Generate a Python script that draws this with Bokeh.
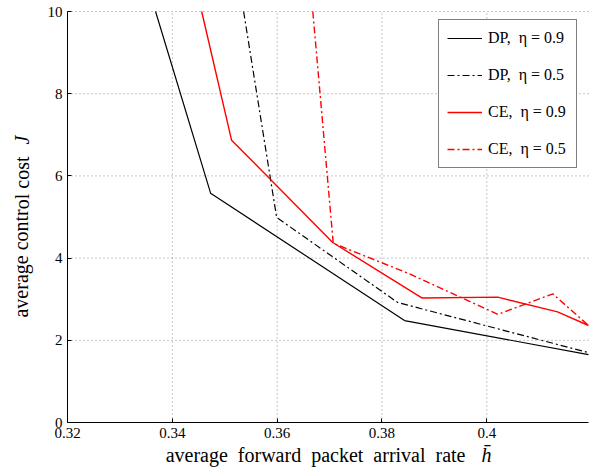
from bokeh.plotting import figure
from bokeh.models import Range1d, FixedTicker, Legend, LegendItem, Label, LinearAxis
from bokeh.embed import file_html
from bokeh.resources import INLINE

# ---- data ----
dp09_x = [0.3368, 0.3473, 0.3843, 0.4194]
dp09_y = [10.0, 5.58, 2.48, 1.65]

dp05_x = [0.3536, 0.3599, 0.3830, 0.4194]
dp05_y = [10.0, 4.99, 2.92, 1.70]

ce09_x = [0.3456, 0.3513, 0.3706, 0.3876, 0.4021, 0.4135, 0.4194]
ce09_y = [10.0, 6.87, 4.38, 3.03, 3.05, 2.69, 2.36]

ce05_x = [0.3668, 0.3707, 0.3850, 0.4021, 0.4126, 0.4194]
ce05_y = [10.0, 4.36, 3.63, 2.63, 3.13, 2.36]

x_min, x_max = 0.32, 0.4194
y_min, y_max = 0, 10
x_ticks = [0.32, 0.34, 0.36, 0.38, 0.40]
x_tick_labels = ["0.32", "0.34", "0.36", "0.38", "0.4"]
y_ticks = [0, 2, 4, 6, 8, 10]
legend_labels = ["DP,\u00a0 \u03b7 = 0.9", "DP,\u00a0 \u03b7 = 0.5",
                 "CE,\u00a0 \u03b7 = 0.9", "CE,\u00a0 \u03b7 = 0.5"]
x_label = "average\u00a0 forward\u00a0 packet\u00a0 arrival\u00a0 rate"
x_label_sym = "h\u0304"
y_label = "average control cost"
y_label_sym = "J"

FONT = "Liberation Serif"

W, H = 590, 468
# frame covers the whole canvas; axes are pinned inside it
px_per_x = 521 / (x_max - x_min)
px_per_y = 411 / (y_max - y_min)
xr = Range1d(x_min - 67 / px_per_x, x_max + (W - 588) / px_per_x)
yr = Range1d(y_min - (H - 422) / px_per_y, y_max + 11 / px_per_y)

p = figure(width=W, height=H, output_backend="svg", toolbar_location=None,
           title=None, x_range=xr, y_range=yr,
           x_axis_location=None, y_axis_location=None,
           min_border=0, min_border_left=0, min_border_right=0,
           min_border_top=0, min_border_bottom=0)
p.outline_line_color = None
p.background_fill_color = "white"
p.border_fill_color = "white"
p.xgrid.visible = False
p.ygrid.visible = False

# dotted grid from the tick arrays, limited to the axes box
grid_kw = dict(line_color="#8c8c8c", line_dash="1 3", line_width=1)
p.segment(x0=x_ticks[1:], y0=[y_min] * (len(x_ticks) - 1),
          x1=x_ticks[1:], y1=[y_max] * (len(x_ticks) - 1), **grid_kw)
p.segment(x0=[x_min] * (len(y_ticks) - 1), y0=y_ticks[1:],
          x1=[x_max] * (len(y_ticks) - 1), y1=y_ticks[1:], **grid_kw)

xaxis = LinearAxis(fixed_location=y_min, bounds=(x_min, x_max),
                   ticker=FixedTicker(ticks=x_ticks))
xaxis.major_label_overrides = {t: l for t, l in zip(x_ticks, x_tick_labels)}
yaxis = LinearAxis(fixed_location=x_min, bounds=(y_min, y_max),
                   ticker=FixedTicker(ticks=y_ticks))
for ax in (xaxis, yaxis):
    ax.axis_line_color = "black"
    ax.axis_line_width = 1
    ax.major_tick_in = 4
    ax.major_tick_out = 0
    ax.minor_tick_line_color = None
    ax.major_tick_line_color = "black"
    ax.major_label_text_font = FONT
    ax.major_label_text_font_size = "15px"
    ax.major_label_text_color = "black"
    ax.major_label_standoff = 5
p.add_layout(xaxis, "below")
p.add_layout(yaxis, "left")

dashdot = "7 3 2 3"
r1 = p.line(dp09_x, dp09_y, line_color="black", line_width=1.2)
r2 = p.line(dp05_x, dp05_y, line_color="black", line_width=1.2, line_dash=dashdot)
r3 = p.line(ce09_x, ce09_y, line_color="#ff0000", line_width=1.4)
r4 = p.line(ce05_x, ce05_y, line_color="#ff0000", line_width=1.4, line_dash=dashdot)

legend = Legend(items=[LegendItem(label=legend_labels[0], renderers=[r1]),
                       LegendItem(label=legend_labels[1], renderers=[r2]),
                       LegendItem(label=legend_labels[2], renderers=[r3]),
                       LegendItem(label=legend_labels[3], renderers=[r4])],
                location=(438, 300))
legend.label_text_font = FONT
legend.label_text_font_size = "16px"
legend.label_text_color = "black"
legend.border_line_color = "black"
legend.border_line_width = 1
legend.background_fill_color = "white"
legend.background_fill_alpha = 1
legend.padding = 8
legend.spacing = 17
legend.glyph_width = 35
legend.glyph_height = 20
legend.label_height = 20
legend.label_width = 80
legend.label_standoff = 6
legend.margin = 0
p.add_layout(legend)

# axis titles (upright text + italic symbol)
def dx(px):
    return x_min + (px - 67) / px_per_x

def dy(py):
    return y_min + (422 - py) / px_per_y

p.add_layout(Label(x=dx(465), y=dy(454.5), text=x_label, text_align="right",
                   text_baseline="alphabetic", text_font=FONT,
                   text_font_size="20px", text_color="black"))
p.add_layout(Label(x=dx(481), y=dy(454.5), text=x_label_sym, text_align="left",
                   text_baseline="alphabetic", text_font=FONT,
                   text_font_style="italic", text_font_size="20px",
                   text_color="black"))
p.add_layout(Label(x=dx(21), y=dy(156), text=y_label, text_align="right",
                   text_baseline="alphabetic", angle=1.5707963,
                   text_font=FONT, text_font_size="20px", text_color="black"))
p.add_layout(Label(x=dx(21), y=dy(144), text=y_label_sym, text_align="left",
                   text_baseline="alphabetic", angle=1.5707963,
                   text_font=FONT, text_font_style="italic",
                   text_font_size="20px", text_color="black"))

open("out.html", "w").write(file_html(p, INLINE))
